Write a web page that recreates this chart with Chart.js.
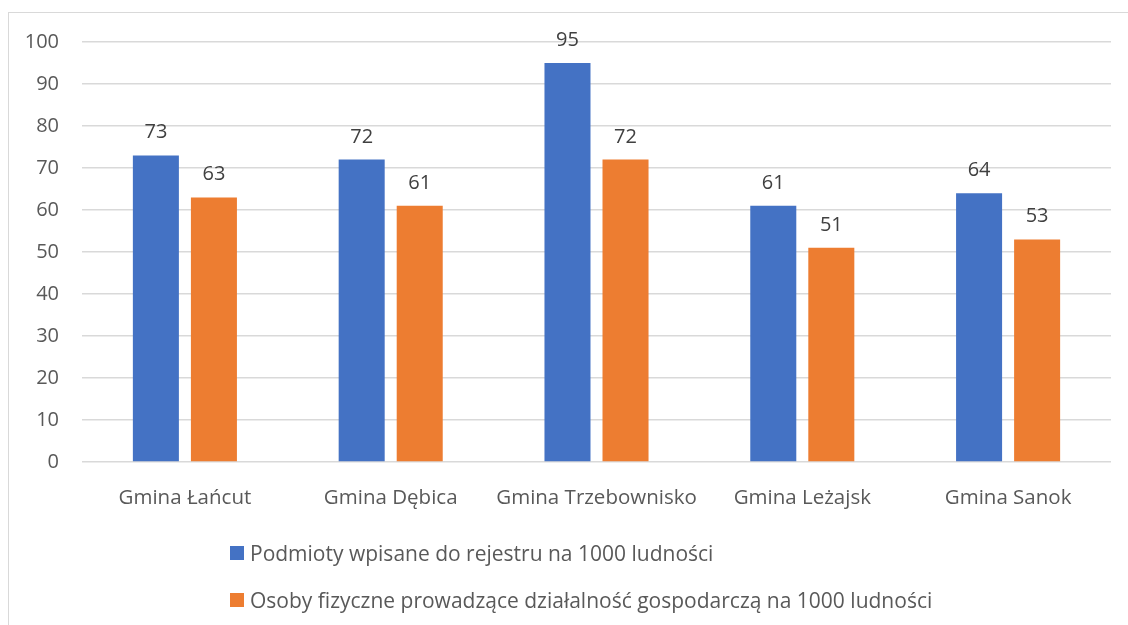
<!DOCTYPE html>
<html lang="pl">
<head>
  <meta charset="UTF-8">
  <title>Gminy - podmioty na 1000 ludności</title>
  <script src="https://cdn.jsdelivr.net/npm/chart.js@4"></script>
  <style>
    body {
      margin: 0;
      background: #ffffff;
      font-family: 'Open Sans', sans-serif;
      overflow: hidden;
    }
    #frame {
      position: absolute;
      left: 8px;
      top: 12px;
      width: 1300px;
      height: 800px;
      border: 1px solid #d9d9d9;
    }
    #wrap {
      position: absolute;
      left: 0;
      top: 0;
      width: 1128px;
      height: 625px;
    }
    .legend-item {
      position: absolute;
      left: 230px;
      font-size: 21px;
      line-height: 28px;
      color: #595959;
      display: flex;
      align-items: center;
      white-space: nowrap;
    }
    .legend-item span.box {
      display: inline-block;
      width: 14px;
      height: 14px;
      margin-right: 6px;
    }
  </style>
</head>
<body>
  <div id="frame"></div>
  <div id="wrap"><canvas id="chart" width="1128" height="625"></canvas></div>
  <div class="legend-item" id="leg0" style="top:539px"><span class="box"></span><span class="txt"></span></div>
  <div class="legend-item" id="leg1" style="top:586px"><span class="box"></span><span class="txt"></span></div>

  <script>
    // dane
    const categories = ['Gmina Łańcut', 'Gmina Dębica', 'Gmina Trzebownisko', 'Gmina Leżajsk', 'Gmina Sanok'];
    const seriesNames = [
      'Podmioty wpisane do rejestru na 1000 ludności',
      'Osoby fizyczne prowadzące działalność gospodarczą na 1000 ludności'
    ];
    const podmioty = [73, 72, 95, 61, 64];
    const osoby = [63, 61, 72, 51, 53];
    const seriesColors = ['#4472C4', '#ED7D31'];
    const yTicks = [0, 10, 20, 30, 40, 50, 60, 70, 80, 90, 100];

    // etykiety wartości nad słupkami
    const valueLabels = {
      id: 'valueLabels',
      afterDatasetsDraw(chart) {
        const ctx = chart.ctx;
        ctx.save();
        ctx.font = '20px "Open Sans", sans-serif';
        ctx.fillStyle = '#404040';
        ctx.textAlign = 'center';
        ctx.textBaseline = 'alphabetic';
        chart.data.datasets.forEach((ds, i) => {
          chart.getDatasetMeta(i).data.forEach((bar, j) => {
            ctx.fillText(ds.data[j], bar.x, bar.y - 17);
          });
        });
        ctx.restore();
      }
    };

    const ctx = document.getElementById('chart').getContext('2d');
    new Chart(ctx, {
      type: 'bar',
      data: {
        labels: categories,
        datasets: [
          { label: seriesNames[0], data: podmioty, backgroundColor: seriesColors[0] },
          { label: seriesNames[1], data: osoby, backgroundColor: seriesColors[1] }
        ]
      },
      options: {
        responsive: false,
        animation: false,
        categoryPercentage: 0.564,
        barPercentage: 0.793,
        layout: { padding: { top: 42, right: 17, bottom: 113, left: 0 } },
        plugins: {
          legend: { display: false },
          tooltip: { enabled: false }
        },
        scales: {
          x: {
            grid: { display: false },
            border: { display: false },
            ticks: {
              color: '#595959',
              font: { family: 'Open Sans', size: 20.5 },
              padding: 16,
              maxRotation: 0
            },
            afterFit(scale) { scale.height = 50; }
          },
          y: {
            min: 0,
            max: 100,
            afterBuildTicks(scale) { scale.ticks = yTicks.map(v => ({ value: v })); },
            grid: { color: '#d9d9d9', lineWidth: 1.5, drawTicks: false },
            border: { display: false },
            ticks: {
              color: '#595959',
              font: { family: 'Open Sans', size: 20 },
              padding: 23
            },
            afterFit(scale) { scale.width = 82; }
          }
        }
      },
      plugins: [valueLabels]
    });

    // legenda
    seriesNames.forEach((name, i) => {
      const el = document.getElementById('leg' + i);
      el.querySelector('.box').style.background = seriesColors[i];
      el.querySelector('.txt').textContent = name;
    });
  </script>
</body>
</html>
